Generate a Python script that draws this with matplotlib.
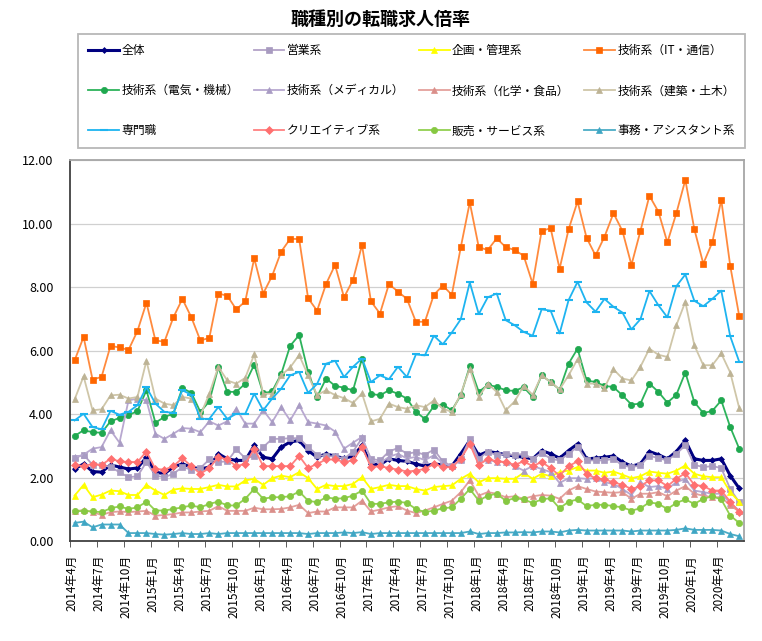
import matplotlib
matplotlib.use("Agg")
import matplotlib.pyplot as plt
import numpy as np

plt.rcParams['font.family'] = ['Noto Sans CJK JP', 'DejaVu Sans']

# months 2014-04 .. 2020-06
months = [f"{2014 + (3 + i) // 12}年{(3 + i) % 12 + 1}月" for i in range(75)]

zentai = [2.27, 2.43, 2.19, 2.17, 2.40, 2.33, 2.27, 2.30, 2.64, 2.17, 2.12, 2.33, 2.43, 2.33, 2.27, 2.33, 2.75, 2.59, 2.54, 2.54, 3.01, 2.64, 2.59, 2.96, 3.12,
          3.17, 2.85, 2.64, 2.75, 2.67, 2.61, 2.67, 3.01, 2.43, 2.40, 2.59, 2.54, 2.51, 2.43, 2.36, 2.43, 2.40, 2.36, 2.75, 3.17, 2.70, 2.82, 2.78,
          2.72, 2.68, 2.64, 2.59, 2.85, 2.75, 2.61, 2.85, 3.06, 2.59, 2.61, 2.64, 2.68, 2.49, 2.36, 2.43, 2.82, 2.72, 2.59, 2.82, 3.17, 2.59, 2.54, 2.54, 2.59, 2.06, 1.66]
eigyo = [2.61, 2.72, 2.40, 2.40, 2.33, 2.17, 2.01, 2.04, 2.49, 2.06, 2.01, 2.12, 2.33, 2.25, 2.30, 2.57, 2.49, 2.51, 2.89, 2.61, 2.67, 2.96, 3.22, 3.22, 3.24,
         3.24, 2.96, 2.72, 2.67, 2.67, 2.59, 2.82, 3.24, 2.59, 2.54, 2.82, 2.93, 2.75, 2.80, 2.72, 2.88, 2.51, 2.36, 2.59, 3.22, 2.59, 2.82, 2.70,
         2.75, 2.70, 2.75, 2.59, 2.78, 2.59, 2.54, 2.75, 2.96, 2.54, 2.54, 2.54, 2.59, 2.38, 2.33, 2.38, 2.69, 2.61, 2.54, 2.75, 3.01, 2.40, 2.33, 2.36, 2.30, 1.64, 1.22]
kikaku = [1.43, 1.77, 1.38, 1.46, 1.59, 1.57, 1.45, 1.45, 1.77, 1.59, 1.45, 1.62, 1.66, 1.64, 1.64, 1.70, 1.77, 1.72, 1.72, 1.91, 1.96, 1.77, 1.98,
          2.06, 2.01, 2.17, 1.98, 1.64, 1.77, 1.73, 1.73, 1.80, 2.01, 1.64, 1.70, 1.77, 1.73, 1.73, 1.64, 1.59, 1.70, 1.73, 1.75, 1.96, 2.12, 1.85, 1.98, 1.98,
          1.96, 1.96, 2.15, 1.96, 2.12, 2.04, 2.17, 2.22, 2.33, 2.22, 2.22, 2.15, 2.19, 2.09, 1.98, 2.04, 2.19, 2.15, 2.12, 2.22, 2.38, 2.12, 2.04, 2.01, 2.01, 1.54, 1.24]
it_tsushin = [5.69, 6.43, 5.09, 5.17, 6.15, 6.10, 6.02, 6.62, 7.51, 6.32, 6.28, 7.05, 7.63, 7.05, 6.32, 6.40, 7.80, 7.73, 7.30, 7.55, 8.91, 7.80, 8.36, 9.12, 9.52, 9.52,
              7.65, 7.26, 8.10, 8.70, 7.68, 8.23, 9.33, 7.55, 7.17, 8.10, 7.86, 7.63, 6.91, 6.91, 7.76, 8.05, 7.76, 9.26, 10.67, 9.26, 9.17, 9.54, 9.26, 9.17,
              8.99, 8.11, 9.77, 9.86, 8.58, 9.82, 10.70, 9.56, 9.00, 9.59, 10.33, 9.77, 8.70, 9.77, 10.88, 10.38, 9.41, 10.33, 11.38, 9.83, 8.74, 9.41, 10.75, 8.67, 7.09]
denki = [3.31, 3.49, 3.43, 3.41, 3.77, 3.88, 3.96, 4.10, 4.75, 3.73, 3.91, 4.01,
         4.82, 4.67, 4.07, 4.40, 5.47, 4.70, 4.70, 4.96, 5.56, 4.65, 4.72, 5.26, 6.15, 6.49,
         5.33, 4.54, 5.12, 4.89, 4.83, 4.75, 5.75, 4.64, 4.59, 4.75, 4.64, 4.49, 4.07, 3.85, 4.25, 4.30, 4.12, 4.59, 5.51, 4.70, 4.92, 4.86, 4.75, 4.73,
         4.85, 4.54, 5.22, 5.01, 4.77, 5.59, 6.06, 5.06, 5.01, 4.89, 4.85, 4.59, 4.30, 4.33, 4.96, 4.70, 4.36, 4.61, 5.31, 4.38, 4.03, 4.10, 4.43, 3.59, 2.91]
medical = [2.64, 2.72, 2.91, 2.96, 3.49, 3.10, 4.43, 4.49, 4.43, 3.38, 3.22, 3.38, 3.56, 3.54, 3.43, 3.77, 3.64, 3.77, 4.17, 3.70, 3.70, 4.12, 3.75, 4.22, 3.80,
           4.28, 3.75, 3.70, 3.64, 3.45, 2.91, 3.10, 3.28,
           2.55, 2.45, 2.65, 2.75, 2.60, 2.65, 2.55, 2.70, 2.45, 2.35, 2.55, 3.15, 2.45, 2.55, 2.50,
           2.49, 2.36, 2.22, 2.36, 2.27, 2.17, 1.83, 1.98, 1.98, 1.96, 1.98, 1.85, 1.80, 1.64, 1.45, 1.85, 1.70, 1.73, 1.64, 1.85, 1.96, 1.59, 1.54, 1.49, 1.49, 1.20, 0.96]
kagaku = [0.93, 0.98, 0.91, 0.82, 0.91, 0.93, 0.91, 0.93, 0.95, 0.80, 0.82, 0.85, 0.90, 0.90, 0.93, 0.95, 1.10, 0.95, 0.95, 0.95, 1.05, 1.00, 1.00,
          1.01, 1.06, 1.14, 0.88, 0.93, 0.93, 1.06, 1.06, 1.06, 1.27, 0.93, 0.99, 1.06, 1.10, 0.96, 0.88, 0.96, 1.06, 1.17, 1.27, 1.54, 1.91, 1.43, 1.54, 1.49,
          1.38, 1.41, 1.33, 1.41, 1.45, 1.43, 1.33, 1.59, 1.73, 1.64, 1.56, 1.54, 1.52, 1.54, 1.33, 1.49, 1.49, 1.54, 1.41, 1.59, 1.73, 1.49, 1.43, 1.38, 1.38, 1.12, 0.93]
kenchiku = [4.46, 5.19, 4.12, 4.15, 4.59, 4.61, 4.49, 4.54, 5.68, 4.49, 4.33, 4.28,
            4.54, 4.49, 3.96, 4.64, 5.49, 5.06, 4.96, 5.14, 5.88, 4.64, 4.64, 5.22, 5.47, 5.86,
            5.22, 4.60, 4.75, 4.60, 4.50, 4.35, 4.65, 3.77, 3.85, 4.33, 4.22, 4.17, 4.28, 4.22, 4.43, 4.17, 4.07, 4.64, 5.43, 4.54, 4.96, 4.70, 4.12, 4.40,
            4.89, 4.61, 5.22, 5.01, 4.78, 5.22, 5.73, 4.96, 4.96, 4.83, 5.41, 5.12, 5.06, 5.49, 6.06, 5.87, 5.80, 6.80, 7.54, 6.17, 5.54, 5.54, 5.91, 5.31, 4.19]
senmon = [3.80, 4.01, 3.59, 3.52, 4.10, 3.98, 4.07, 4.28, 4.85, 4.33, 4.07, 4.04, 4.75, 4.61, 3.85, 3.85, 4.22, 3.85, 4.01, 4.01, 4.64, 4.12, 4.49, 4.80, 5.22, 5.33,
          4.67, 4.95, 5.59, 5.68, 5.17, 5.49, 5.75, 5.01, 5.22, 5.10, 5.49, 5.17, 5.88, 5.85, 6.47, 6.20, 6.57, 6.99, 8.15, 7.15, 7.68, 7.80, 6.96, 6.80,
          6.59, 6.47, 7.30, 7.26, 6.54, 7.59, 8.17, 7.52, 7.23, 7.63, 7.38, 7.20, 6.67, 6.99, 7.88, 7.43, 7.05, 8.03, 8.40, 7.57, 7.40, 7.63, 7.89, 6.45, 5.65]
creative = [2.40, 2.36, 2.43, 2.40, 2.59, 2.51, 2.49, 2.49, 2.82, 2.27, 2.25, 2.36, 2.61, 2.36, 2.12, 2.30, 2.64, 2.57, 2.36, 2.43, 2.91, 2.36, 2.36,
            2.36, 2.36, 2.68, 2.30, 2.43, 2.57, 2.57, 2.49, 2.54, 2.96, 2.33, 2.36, 2.30, 2.25, 2.19, 2.22, 2.27, 2.43, 2.33, 2.33, 2.59, 3.06, 2.40, 2.59, 2.51,
            2.49, 2.40, 2.51, 2.36, 2.49, 2.30, 2.06, 2.36, 2.51, 2.12, 1.98, 1.94, 1.85, 1.77, 1.64, 1.73, 1.91, 1.91, 1.73, 1.96, 2.14, 1.77, 1.73, 1.59, 1.59, 1.24, 0.91]
hanbai = [0.93, 0.95, 0.93, 0.91, 1.03, 1.09, 1.01, 1.06, 1.24, 0.96, 0.96, 1.01, 1.06, 1.12, 1.06, 1.17, 1.24, 1.12, 1.12, 1.33, 1.64, 1.33, 1.38,
          1.38, 1.41, 1.56, 1.27, 1.22, 1.38, 1.33, 1.35, 1.43, 1.59, 1.17, 1.17, 1.22, 1.24, 1.20, 1.01, 0.91, 0.96, 1.03, 1.06, 1.33, 1.64, 1.27, 1.43, 1.49,
          1.27, 1.35, 1.31, 1.20, 1.31, 1.35, 1.03, 1.24, 1.31, 1.10, 1.14, 1.14, 1.10, 1.06, 0.96, 1.03, 1.22, 1.17, 1.01, 1.20, 1.31, 1.17, 1.33, 1.41, 1.31, 0.80, 0.57]
jimu = [0.57, 0.61, 0.43, 0.52, 0.52, 0.52, 0.25, 0.25, 0.25, 0.22, 0.20, 0.22, 0.25, 0.22, 0.22, 0.25, 0.22, 0.25, 0.25, 0.25, 0.25, 0.25, 0.25, 0.25, 0.25,
        0.25, 0.22, 0.25, 0.25, 0.25, 0.27, 0.25, 0.28, 0.22, 0.25, 0.25, 0.25, 0.25, 0.25, 0.25, 0.25, 0.25, 0.25, 0.25, 0.30, 0.22, 0.25, 0.25, 0.27, 0.27,
        0.28, 0.27, 0.30, 0.30, 0.27, 0.33, 0.35, 0.33, 0.33, 0.33, 0.33, 0.33, 0.30, 0.33, 0.33, 0.33, 0.33, 0.35, 0.40, 0.35, 0.35, 0.35, 0.33, 0.22, 0.15]

# (label, data, line colour, marker colour, marker, size, linewidth)
series = [
    ("全体", zentai, "#000080", "#000080", "D", 3, 2.2),
    ("営業系", eigyo, "#B3A2C7", "#A89BC0", "s", 4, 1.3),
    ("企画・管理系", kikaku, "#FFFF00", "#FFFF00", "^", 5, 1.3),
    ("技術系（IT・通信）", it_tsushin, "#FF8A3D", "#FF6600", "s", 5, 1.3),
    ("技術系（電気・機械）", denki, "#2DB35B", "#1FA84F", "o", 4.5, 1.3),
    ("技術系（メディカル）", medical, "#B8A8D0", "#A99CC4", "^", 5, 1.3),
    ("技術系（化学・食品）", kagaku, "#E4A09C", "#DA8F8A", "^", 5, 1.3),
    ("技術系（建築・土木）", kenchiku, "#CFC6A8", "#BDB395", "^", 5, 1.3),
    ("専門職", senmon, "#1EB4F0", "#1EB4F0", "_", 6, 1.3),
    ("クリエイティブ系", creative, "#FF8080", "#FF7070", "D", 4, 1.3),
    ("販売・サービス系", hanbai, "#92D050", "#86C842", "o", 4.5, 1.3),
    ("事務・アシスタント系", jimu, "#4BACC6", "#3FA6C4", "^", 5, 1.3),
]

fig = plt.figure(figsize=(7.62, 6.41), dpi=100)
ax = fig.add_axes([0.092, 0.156, 0.884, 0.594])

x = np.arange(len(months))
handles = []
for name, vals, lc, mc, mk, ms, lw in series:
    h, = ax.plot(x, vals, color=lc, lw=lw, marker=mk, markersize=ms,
                 markerfacecolor=mc, markeredgecolor=mc, markeredgewidth=1.5 if mk == "_" else 0.5,
                 label=name)
    handles.append(h)

ax.set_xlim(-0.5, len(months) - 0.5)
ax.set_ylim(0, 12)
ax.set_yticks(np.arange(0, 12.1, 2))
ax.set_yticklabels([f"{v:.2f}" for v in np.arange(0, 12.1, 2)], fontsize=9)
tick_idx = np.arange(0, len(months), 3)
# labels sit a little right of the tick marks
ax.set_xticks(tick_idx - 0.25)
ax.set_xticklabels([months[i] for i in tick_idx], rotation=90, fontsize=8.5)
ax.set_xticks(tick_idx - 0.5, minor=True)
ax.tick_params(axis='x', which='major', length=0, pad=10)
ax.tick_params(axis='x', which='minor', length=4, direction='out', color='#404040')
ax.tick_params(axis='y', length=0, pad=12)
ax.grid(axis='y', color='#D0D0D0', lw=0.9)
ax.set_axisbelow(True)
for s in ['left', 'bottom']:
    ax.spines[s].set_color('#404040')
    ax.spines[s].set_linewidth(1.3)
for s in ['top', 'right']:
    ax.spines[s].set_color('#A6A6A6')
    ax.spines[s].set_linewidth(1.3)

# legend filled row by row (matplotlib fills columns)
order = [0, 4, 8, 1, 5, 9, 2, 6, 10, 3, 7, 11]
leg = fig.legend([handles[i] for i in order], [series[i][0] for i in order],
                 ncol=4, loc='lower left', mode='expand',
                 bbox_to_anchor=(0.102, 0.769, 0.876, 0.172),
                 fontsize=8.5, frameon=True, fancybox=False, labelspacing=2.3,
                 handlelength=2.6, handletextpad=0.2, borderpad=0.9, borderaxespad=0)
leg.get_frame().set_edgecolor('#A6A6A6')
leg.get_frame().set_linewidth(1.3)

fig.suptitle("職種別の転職求人倍率", x=0.5, y=0.985, fontsize=13, fontweight='bold')

fig.savefig("out.png", dpi=100)
